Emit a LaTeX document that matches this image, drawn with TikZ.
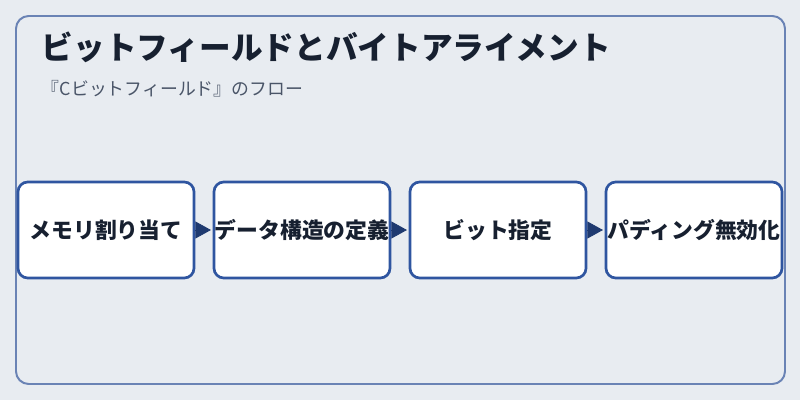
\documentclass[tikz,border=0pt]{standalone}
\usepackage{fontspec}
\newfontfamily\jpfont{Noto Sans CJK JP}
\usetikzlibrary{arrows.meta}
\begin{document}
\begin{tikzpicture}[x=0.025cm,y=-0.025cm]
    \definecolor{bgcol}{RGB}{232,236,241};
    \definecolor{framecol}{RGB}{106,131,181};
    \definecolor{boxcol}{RGB}{47,85,160};
    \definecolor{tipcol}{RGB}{31,58,112};
    \definecolor{titlecol}{RGB}{23,32,48};
    \definecolor{subcol}{RGB}{74,85,104};
\tikzstyle{stepbox}=[draw=boxcol,fill=white,line width=1.9pt,rounded corners=7pt,
    minimum width=4.4cm,minimum height=2.4cm,inner sep=0pt,
    font=\jpfont\bfseries\fontsize{15.5}{18}\selectfont,text=titlecol]
\tikzstyle{flow}=[draw=tipcol,line width=0.6pt,-{Triangle[length=11pt,width=12pt]},shorten >=1.2pt]
\fill [bgcol] (0,0) rectangle (800,400);
\draw [framecol,line width=1.4pt,rounded corners=9pt] (16,16) rectangle (785,384);
\node [anchor=west,text=titlecol,font=\jpfont\bfseries\fontsize{22.5}{26}\selectfont] (title) at (37,47) {ビットフィールドとバイトアライメント};
\node [anchor=west,text=subcol,font=\jpfont\fontsize{12.7}{15}\selectfont] (sub) at (37,89) {『Cビットフィールド』のフロー};
\foreach \n/\t in {1/メモリ割り当て,2/データ構造の定義,3/ビット指定,4/パディング無効化} {
    \node [stepbox] (b\n) at (106+196*\n-196,230) {\t};
  }
\foreach \n [evaluate=\n as \m using int(\n+1)] in {1,2,3} {
    \draw [flow] (b\n.east) -- (b\m.west);
  }
\end{tikzpicture}
\end{document}
